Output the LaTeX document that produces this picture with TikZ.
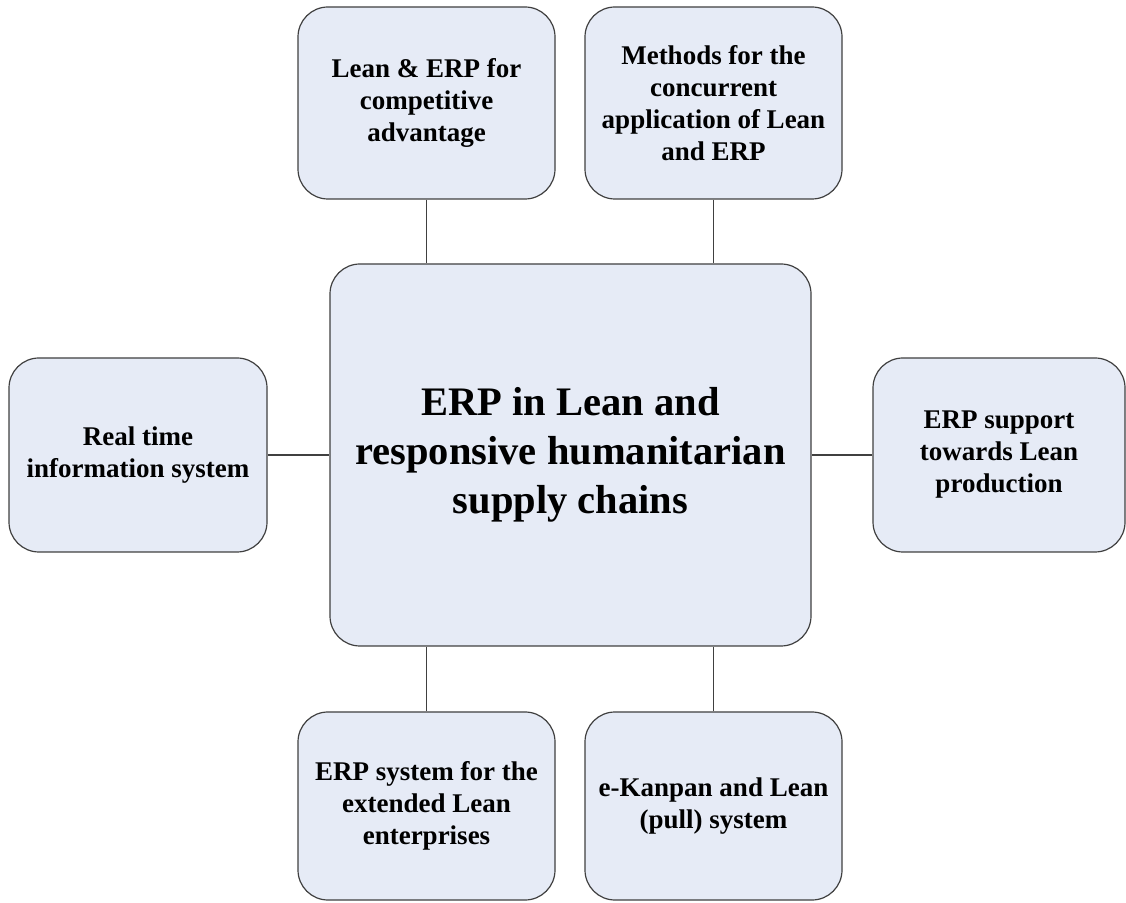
\documentclass[tikz,border=0pt]{standalone}
\usepackage{fontspec}
\setmainfont{Liberation Serif}
\usetikzlibrary{positioning}
\definecolor{boxfill}{RGB}{230,235,246}
\definecolor{boxline}{RGB}{64,64,64}
\tikzset{
  topic/.style={draw=boxline, line width=1.2pt, fill=boxfill, rounded corners=30pt,
    minimum width=257pt, minimum height=192pt, align=center, inner sep=0pt,
    font=\fontsize{27}{32}\selectfont\bfseries},
  hub/.style={topic, minimum width=481pt, minimum height=382pt,
    font=\fontsize{40.5}{49}\selectfont\bfseries},
  link/.style={draw=boxline, line width=1.2pt}
}
\begin{document}
\begin{tikzpicture}[x=1pt, y=1pt]
\useasboundingbox (0,0) rectangle (1126,902);

\node [hub] (hub) at (570.5,447) {ERP in Lean and\\responsive humanitarian\\supply chains};

\node [topic] (tl) at (426.5,799) {Lean \& ERP for\\competitive\\advantage};
\node [topic] (tr) at (713.5,799) {Methods for the\\concurrent\\application of Lean\\and ERP};
\node [topic, minimum width=258pt, minimum height=194pt] (lt) at (138,447) {Real time\\information system};
\node [topic, minimum width=252pt, minimum height=194pt] (rt) at (999,447) {ERP support\\towards Lean\\production};
\node [topic, minimum height=188pt] (bl) at (426.5,96) {ERP system for the\\extended Lean\\enterprises};
\node [topic, minimum height=188pt] (br) at (713.5,96) {e-Kanpan and Lean\\(pull) system};

% links to the hub
\draw [link] (tl.south) -- (tl.south |- hub.north);
\draw [link] (tr.south) -- (tr.south |- hub.north);
\draw [link] (bl.north) -- (bl.north |- hub.south);
\draw [link] (br.north) -- (br.north |- hub.south);
\draw [link] (lt.east) -- (hub.west);
\draw [link] (rt.west) -- (hub.east);
\end{tikzpicture}
\end{document}
